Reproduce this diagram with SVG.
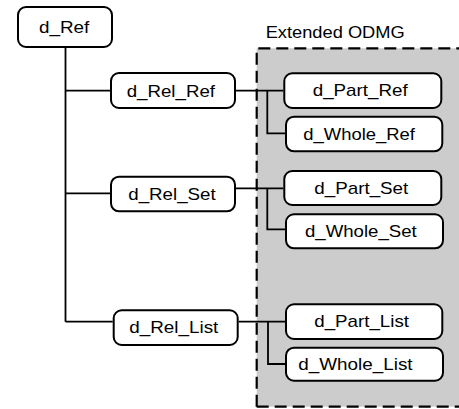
<svg xmlns="http://www.w3.org/2000/svg" width="459" height="409" viewBox="0 0 459 409">
<style>
.box{fill:#ffffff;stroke:#000000;stroke-width:2}
.lbl{font-family:"Liberation Sans",Arial,sans-serif;font-size:17px;fill:#000000}
.conn{fill:none;stroke:#000000;stroke-width:1.8}
.dash{fill:none;stroke:#000000;stroke-width:2.2;stroke-dasharray:12 6}
</style>
<g id="region">
<rect x="256.7" y="48.3" width="210" height="358.4" fill="#cccccc"/>
<path class="dash" d="M256.7 406.7 V48.3 H462"/>
<path class="dash" d="M256.7 406.7 H462"/>
<text class="lbl" x="265.7" y="38.3" textLength="139" lengthAdjust="spacingAndGlyphs">Extended ODMG</text>
</g>
<g id="connectors">
<path class="conn" d="M65.5 48 V321.7"/>
<path class="conn" d="M65.5 90.7 H110"/>
<path class="conn" d="M65.5 193.3 H110"/>
<path class="conn" d="M65.5 321.7 H112.7"/>
<path class="conn" d="M236 90.7 H283.3"/>
<path class="conn" d="M267.3 90.7 V133.3 H285"/>
<path class="conn" d="M236 188.3 H283.3"/>
<path class="conn" d="M267.3 188.3 V229.3 H285"/>
<path class="conn" d="M238.7 321.7 H285"/>
<path class="conn" d="M268 321.7 V364 H285"/>
</g>
<g id="d_Ref">
<rect class="box" x="18" y="7" width="94" height="40" rx="8"/>
<text class="lbl" x="39" y="33.3" textLength="50.3" lengthAdjust="spacingAndGlyphs">d_Ref</text>
</g>
<g id="d_Rel_Ref">
<rect class="box" x="111" y="73" width="124" height="35" rx="8"/>
<text class="lbl" x="126.7" y="96.7" textLength="88.3" lengthAdjust="spacingAndGlyphs">d_Rel_Ref</text>
</g>
<g id="d_Rel_Set">
<rect class="box" x="111" y="176.7" width="124" height="34.6" rx="8"/>
<text class="lbl" x="128.3" y="200" textLength="87.3" lengthAdjust="spacingAndGlyphs">d_Rel_Set</text>
</g>
<g id="d_Rel_List">
<rect class="box" x="113.7" y="310.3" width="124" height="34.7" rx="8"/>
<text class="lbl" x="129.3" y="333.3" textLength="89" lengthAdjust="spacingAndGlyphs">d_Rel_List</text>
</g>
<g id="d_Part_Ref">
<rect class="box" x="284.3" y="73.3" width="157" height="34.7" rx="8"/>
<text class="lbl" x="312.7" y="96" textLength="95" lengthAdjust="spacingAndGlyphs">d_Part_Ref</text>
</g>
<g id="d_Whole_Ref">
<rect class="box" x="286" y="116.7" width="156.3" height="34.6" rx="8"/>
<text class="lbl" x="303.3" y="140" textLength="111.7" lengthAdjust="spacingAndGlyphs">d_Whole_Ref</text>
</g>
<g id="d_Part_Set">
<rect class="box" x="284.3" y="171" width="157" height="34" rx="8"/>
<text class="lbl" x="314.3" y="194" textLength="94" lengthAdjust="spacingAndGlyphs">d_Part_Set</text>
</g>
<g id="d_Whole_Set">
<rect class="box" x="286" y="214.3" width="157" height="34" rx="8"/>
<text class="lbl" x="305" y="236.7" textLength="111.7" lengthAdjust="spacingAndGlyphs">d_Whole_Set</text>
</g>
<g id="d_Part_List">
<rect class="box" x="286" y="304.3" width="156.3" height="34.7" rx="8"/>
<text class="lbl" x="314.3" y="326.7" textLength="94.7" lengthAdjust="spacingAndGlyphs">d_Part_List</text>
</g>
<g id="d_Whole_List">
<rect class="box" x="286" y="347.7" width="157" height="33" rx="8"/>
<text class="lbl" x="298.3" y="370" textLength="114.3" lengthAdjust="spacingAndGlyphs">d_Whole_List</text>
</g>
</svg>
